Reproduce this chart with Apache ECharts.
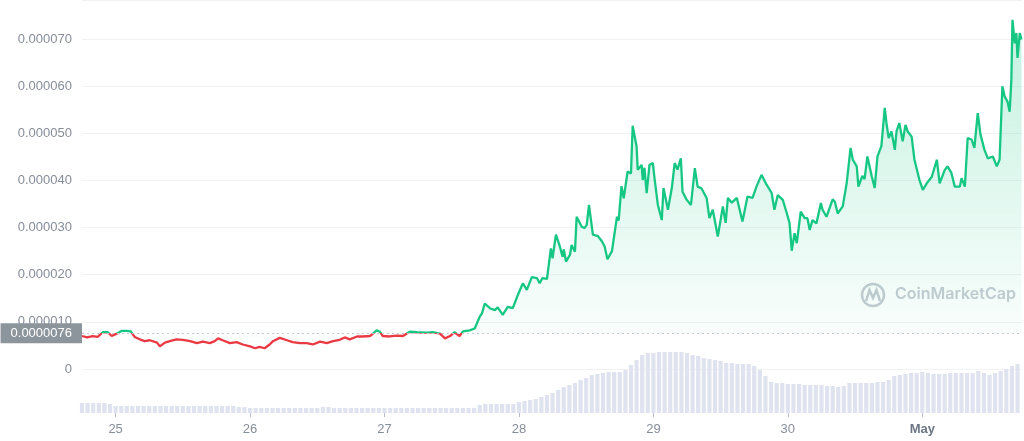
<!DOCTYPE html>
<html><head><meta charset="utf-8">
<script src="https://cdn.jsdelivr.net/npm/echarts@6/dist/echarts.min.js"></script>
<style>html,body{margin:0;padding:0;background:#fff}#c{width:1024px;height:441px}</style>
</head><body><div id="c"></div>
<script>
// hours since Apr 25 00:00
const priceHours = [-6.0,-5.1,-4.1,-3.2,-2.3,-1.4,-0.7,0.2,1.1,2.0,2.7,3.4,4.3,5.2,6.1,7.4,7.9,8.8,10.0,10.9,12.0,13.3,14.5,15.6,16.8,17.7,18.3,19.1,20.4,21.6,22.7,24.0,24.9,25.7,26.6,27.5,28.1,29.3,30.6,31.6,32.9,34.1,35.2,36.5,37.7,38.8,40.0,40.9,41.8,43.1,44.1,45.4,46.6,47.2,47.7,48.9,50.2,51.3,52.5,53.8,55.5,56.6,57.9,58.8,59.7,60.5,61.4,62.0,63.2,64.1,65.0,65.4,65.9,66.8,67.7,68.2,69.1,70.0,70.9,71.8,72.7,73.4,74.3,75.2,75.7,76.2,77.0,77.7,78.0,78.6,79.3,79.8,80.0,80.4,81.1,81.4,82.0,82.3,83.2,83.7,84.1,84.5,85.2,86.1,86.8,87.3,87.8,88.6,89.5,89.8,90.3,90.7,91.4,92.0,92.3,93.0,93.2,93.9,94.1,94.4,94.8,95.3,95.9,96.2,96.8,97.5,97.8,98.6,99.3,99.8,100.3,100.9,101.2,101.9,102.7,103.4,103.9,104.6,105.5,106.0,106.6,107.5,108.4,108.9,109.3,110.0,110.9,111.9,112.8,113.7,114.4,115.3,116.2,117.1,117.6,118.2,119.1,119.8,120.3,120.7,121.2,121.6,122.3,123.0,123.5,123.9,124.4,125.1,125.9,126.2,126.9,128.0,128.4,128.9,129.8,130.5,131.2,131.6,132.3,132.6,133.3,133.7,134.2,135.0,135.5,136.0,136.7,137.3,137.6,138.0,138.5,139.1,139.4,139.9,140.5,141.0,141.4,142.1,142.6,143.5,144.1,144.8,145.7,146.6,147.1,148.0,148.5,149.2,149.8,150.7,151.0,151.6,152.1,152.8,153.3,153.9,154.4,155.1,155.7,156.6,157.3,157.8,158.3,158.7,159.2,159.6,159.9,160.1,160.5,160.8,161.0,161.4,161.7];
// price in millionths of USD
const priceMicro = [7.0,6.7,7.0,6.8,7.8,7.8,7.0,7.5,8.1,8.1,8.0,6.8,6.3,5.9,6.1,5.6,4.8,5.6,6.0,6.3,6.2,5.9,5.5,5.8,5.5,5.9,6.5,6.1,5.5,5.7,5.2,4.8,4.4,4.7,4.4,5.2,5.9,6.6,6.1,5.7,5.5,5.5,5.2,5.8,5.5,5.9,6.2,6.7,6.3,6.9,6.9,7.0,8.2,7.9,7.0,6.9,7.1,7.0,7.9,7.8,7.7,7.8,7.5,6.5,7.0,7.8,7.0,8.0,8.2,8.6,11.1,11.8,13.9,12.9,12.5,13.1,11.5,13.2,12.9,15.7,18.2,16.8,19.5,19.3,18.2,19.3,19.1,25.6,23.5,28.5,26.0,23.8,25.4,22.8,24.2,26.3,24.9,32.3,30.2,29.9,30.6,34.8,28.5,28.2,27.1,26.0,23.3,25.0,32.3,31.5,38.8,36.2,41.9,41.5,51.6,47.2,42.3,43.3,40.1,42.7,37.3,43.3,43.7,40.5,34.8,31.6,38.4,33.8,38.5,43.7,42.3,44.7,37.6,36.0,34.8,42.6,38.7,38.3,36.3,32.0,33.8,28.1,34.5,31.0,36.3,35.3,36.3,31.3,36.6,36.3,38.7,41.2,39.1,37.4,33.8,36.9,35.9,33.1,31.0,25.1,28.8,26.7,33.4,32.0,32.0,29.5,31.6,30.9,35.2,33.8,32.3,36.0,35.5,33.0,34.5,39.4,46.9,44.4,43.0,38.7,41.0,40.3,45.1,40.8,38.4,45.1,47.3,55.4,52.2,49.0,50.4,46.5,50.4,52.2,48.3,51.8,50.4,49.3,44.4,40.1,38.0,39.4,40.8,44.4,39.4,42.2,43.0,41.6,38.7,38.7,40.5,38.7,49.0,48.7,46.9,54.3,49.7,46.5,44.7,45.1,43.0,44.4,60.0,57.8,56.8,54.6,61.4,74.1,69.1,71.3,66.0,71.3,69.9];
const baselineMicro = 7.6;
const baselineLabel = '0.0000076';
// hourly volume (relative units), first bar at hour -6
const volumeStartHour = -6;
const volume = [10,10,10,10,10,9,
 7,7,7,7,7,7,7,7,7,7,7,7,7,7,7,7,7,7,7,7,7,7,6,6,
 5,5,5,5,5,5,5,5,5,5,5,5,5,6,6,5,5,5,5,5,5,5,5,5,5,5,5,5,5,5,5,5,5,5,5,5,5,5,5,5,5,
 8,9,9,9,9,9,9,
 11,12,13,14,16,18,20,23,
 26,28,30,33,35,38,39,40,41,41,
 41,43,48,53,58,60,60,61,61,61,
 61,61,60,58,57,55,54,53,52,50,
 50,49,49,49,47,43,37,31,30,30,
 29,29,29,28,28,28,28,27,27,26,
 27,30,30,30,30,30,31,31,33,37,
 38,39,40,40,41,40,39,39,39,40,
 40,40,40,40,42,40,38,40,42,44,
 47,49];
const xTickHours = [0,24,48,72,96,120,144];
const xTickLabels = ['25','26','27','28','29','30','May'];

const GREEN = '#16c784', RED = '#ea3943';
const chart = echarts.init(document.getElementById('c'));
const priceData = priceHours.map((h, i) => [h, priceMicro[i]]);
const volData = volume.map((v, i) => [volumeStartHour + i, v]);
const FONT = '"Liberation Sans", Arial, sans-serif';

chart.setOption({
  animation: false,
  textStyle: { fontFamily: FONT },
  grid: [
    { left: 82, right: 2, top: 0, bottom: 72 },
    { left: 82, right: 2, top: 333, bottom: 28 }
  ],
  xAxis: [
    { type: 'value', gridIndex: 0, min: -6, max: 161.8, show: false },
    { type: 'value', gridIndex: 1, min: -6, max: 161.8,
      axisLine: { show: false }, splitLine: { show: false },
      axisTick: { show: true, customValues: xTickHours, length: 4, lineStyle: { color: '#b8bec8' } },
      axisLabel: { customValues: xTickHours, color: '#858d99', fontSize: 13, margin: 10, fontFamily: FONT,
        formatter: v => { const s = xTickLabels[xTickHours.indexOf(v)]; return s === 'May' ? '{b|May}' : s; },
        rich: { b: { fontWeight: 'bold', color: '#6b7584', fontSize: 13, fontFamily: FONT } } } }
  ],
  yAxis: [
    { type: 'value', gridIndex: 0, min: 0, max: 78.3, interval: 10,
      axisLine: { show: false }, axisTick: { show: false },
      splitLine: { lineStyle: { color: '#f1f2f4' } },
      axisLabel: { color: '#858d99', fontSize: 13, margin: 10, showMaxLabel: false, fontFamily: FONT,
        formatter: v => v === 0 ? '0' : (v / 1e6).toFixed(6) } },
    { type: 'value', gridIndex: 1, min: 0, max: 80, show: false }
  ],
  series: [
    { type: 'line', data: priceData, symbol: 'none', lineStyle: { width: 2.3, color: GREEN }, z: 3,
      areaStyle: { origin: baselineMicro,
        color: new echarts.graphic.LinearGradient(0, 0, 0, 1, [
          { offset: 0, color: 'rgba(22,199,132,0.36)' },
          { offset: 1, color: 'rgba(22,199,132,0.02)' }]) },
      markLine: { symbol: 'none', silent: true, data: [{ yAxis: baselineMicro }],
        lineStyle: { type: [2, 3], color: '#c4c9d1', width: 1 },
        label: { position: 'start', distance: 0, formatter: baselineLabel, color: '#fff',
          backgroundColor: '#8c949c', padding: [4, 10, 3, 10], fontSize: 13, fontFamily: FONT } } },
    { type: 'bar', xAxisIndex: 1, yAxisIndex: 1, data: volData, barWidth: 4.2,
      itemStyle: { color: '#dfe3ef' } }
  ],
  graphic: [
    { type: 'circle', shape: { cx: 873, cy: 295, r: 11 }, style: { fill: 'none', stroke: '#c6cbd3', lineWidth: 2.5 } },
    { type: 'polyline', shape: { points: [[866, 301], [869.5, 290], [873, 298], [876.5, 290], [880, 301]] },
      style: { fill: 'none', stroke: '#c6cbd3', lineWidth: 2.5 } },
    { type: 'text', left: 895, top: 286,
      style: { text: 'CoinMarketCap', fill: '#c6cbd3', font: '600 16px Inter, sans-serif' } }
  ]
});

// split line colour at the baseline (green above, red below) using the axis scale
const baseY = chart.convertToPixel({ xAxisIndex: 0, yAxisIndex: 0 }, [0, baselineMicro])[1];
const H = chart.getHeight();
const f = baseY / H;
chart.setOption({ series: [{ lineStyle: { color: new echarts.graphic.LinearGradient(0, 0, 0, H, [
  { offset: 0, color: GREEN }, { offset: f, color: GREEN },
  { offset: f, color: RED }, { offset: 1, color: RED }], true) } }] });
</script></body></html>
